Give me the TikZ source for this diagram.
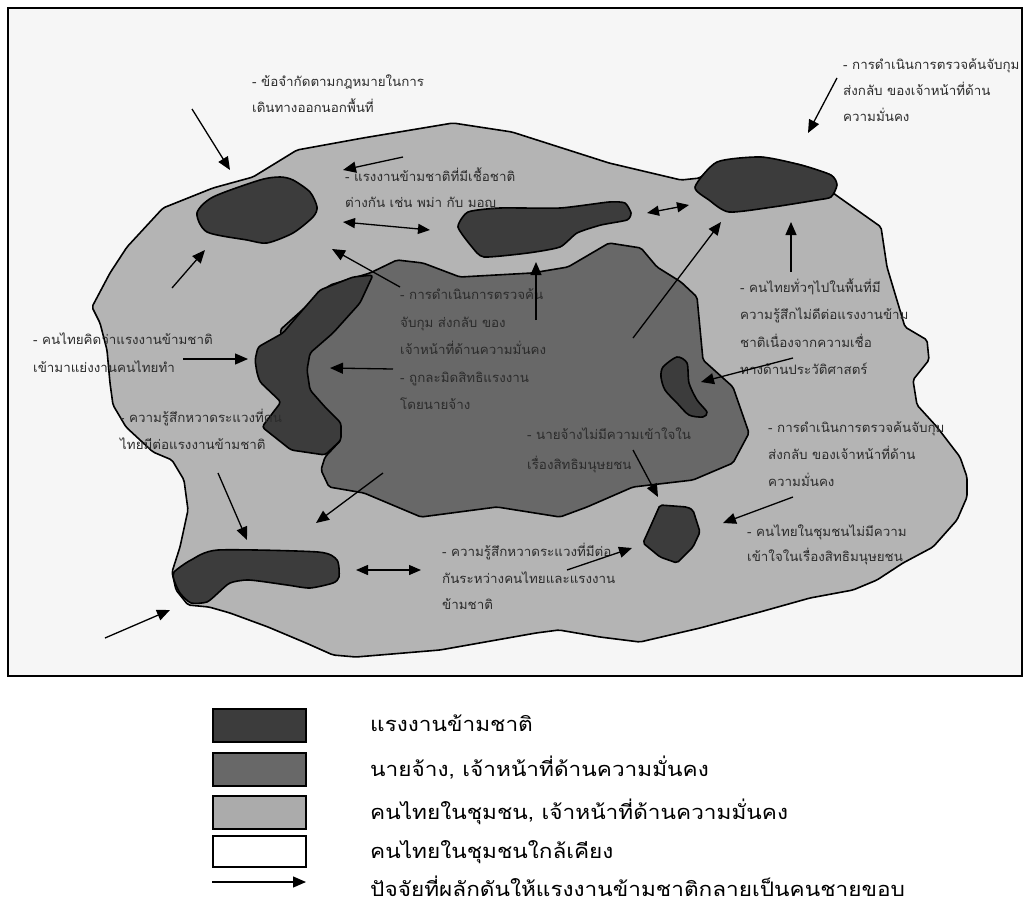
\documentclass[tikz,border=0pt]{standalone}
\usepackage{fontspec}
\newfontfamily\thai[Script=Thai, FakeStretch=1.03]{Loma}
\newfontfamily\thaileg[Script=Thai, FakeStretch=1.13]{Loma}
\usetikzlibrary{arrows.meta}
\definecolor{bgc}{HTML}{F6F6F6}
\definecolor{lightc}{HTML}{B4B4B4}
\definecolor{midc}{HTML}{686868}
\definecolor{darkc}{HTML}{3C3C3C}
\definecolor{txtc}{HTML}{2B2B2B}
\begin{document}
\begin{tikzpicture}[x=1pt,y=-1pt,
 outline/.style={draw=black, line width=1.6pt, line join=round},
 arr/.style={line width=1.3pt, -{Triangle[length=13pt,width=11pt]}},
 darr/.style={line width=1.3pt, {Triangle[length=12pt,width=10pt]}-{Triangle[length=12pt,width=10pt]}},
 lbl/.style={font=\thai\fontsize{13}{15}\selectfont, text=txtc, anchor=base west, inner sep=0pt},
 legtxt/.style={font=\thaileg\fontsize{20}{22}\selectfont, text=black, anchor=base west, inner sep=0pt},
 legbox/.style={draw=black, line width=2pt, minimum width=93pt, minimum height=33pt, inner sep=0pt}]

\useasboundingbox (0,0) rectangle (1029,908);
\fill[white] (0,0) rectangle (1029,908);
\fill[bgc] (8,8) rectangle (1022,676);
\draw[line width=1.5pt] (8,8) rectangle (1022,676);

% outer light region
\filldraw[outline, fill=lightc, rounded corners=2pt]
 (163,208) -- (213,188) -- (253,177) -- (297,150) -- (363,138) -- (453,123) -- (512,132)
 -- (609,163) -- (681,180) -- (700,178) -- (717,162) -- (761,157) -- (801,165) -- (831,175)
 -- (837,185) -- (833,193) -- (881,227) -- (887,267) -- (905,327) -- (927,340) -- (929,360)
 -- (913,380) -- (917,405) -- (937,427) -- (960,457) -- (967,477) -- (967,497) -- (957,520)
 -- (933,547) -- (903,563) -- (877,580) -- (853,590) -- (810,598) -- (760,612) -- (700,628)
 -- (640,642) -- (600,637) -- (559,630) -- (536,633) -- (440,650) -- (356,657) -- (333,655)
 -- (306,643) -- (268,627) -- (230,613) -- (209,607) -- (188,605) -- (176,590) -- (172,572)
 -- (180,547) -- (188,510) -- (184,480) -- (172,460) -- (153,452) -- (126,427) -- (113,405)
 -- (110,383) -- (107,350) -- (100,323) -- (92,307) -- (110,273) -- (127,247) -- cycle;

% medium region (employers, security officers)
\filldraw[outline, fill=midc, rounded corners=2pt]
 (370,273) -- (397,260) -- (423,263) -- (460,277) -- (532,273) -- (568,267) -- (609,243)
 -- (641,248) -- (657,267) -- (681,282) -- (697,297) -- (703,360) -- (733,387) -- (749,433)
 -- (733,463) -- (693,480) -- (633,487) -- (587,507) -- (560,517) -- (497,507) -- (421,517)
 -- (364,493) -- (329,487) -- (321,470) -- (325,457) -- (341,440) -- (300,400) -- (280,330)
 -- (330,285) -- cycle;

% dark regions (migrant workers)
\filldraw[outline, fill=darkc, rounded corners=3pt]
 (373,275) -- (353,277) -- (320,290) -- (300,313) -- (283,333) -- (258,347) -- (255,360)
 -- (257,373) -- (260,382) -- (281,402) -- (262,427) -- (291,450) -- (325,455) -- (341,440)
 -- (341,423) -- (325,407) -- (310,390) -- (307,370) -- (310,353) -- (333,333) -- (360,303) -- cycle;

\filldraw[outline, fill=darkc] plot[smooth cycle, tension=0.45] coordinates {
 (197,213) (213,197) (260,180) (280,177) (293,180) (310,192) (317,207) (313,217)
 (293,233) (267,243) (247,240) (207,232)};

\filldraw[outline, fill=darkc] plot[smooth cycle, tension=0.35] coordinates {
 (458,227) (468,212) (500,208) (560,208) (609,202) (625,203) (631,213) (627,220)
 (601,225) (577,233) (560,247) (528,253) (484,257) (472,247)};

\filldraw[outline, fill=darkc] plot[smooth cycle, tension=0.4] coordinates {
 (695,187) (717,162) (761,157) (801,165) (831,175) (837,185) (831,197) (817,200)
 (773,207) (729,212) (709,200)};

\filldraw[outline, fill=darkc] plot[smooth cycle, tension=0.45] coordinates {
 (663,367) (677,357) (687,363) (689,383) (697,400) (707,412) (703,417) (689,415)
 (677,403) (665,390) (661,377)};

\filldraw[outline, fill=darkc, rounded corners=2pt]
 (660,505) -- (687,507) -- (693,510) -- (700,532) -- (693,547) -- (677,563) -- (660,557)
 -- (643,543) -- (652,523) -- cycle;

\filldraw[outline, fill=darkc] plot[smooth cycle, tension=0.4] coordinates {
 (174,572) (191,560) (218,550) (318,552) (337,560) (339,577) (333,583) (310,588)
 (287,585) (249,580) (230,583) (218,593) (207,602) (191,603) (180,593) (174,580)};

% labels
\foreach \t [count=\i] in {- ข้อจำกัดตามกฎหมายในการ, เดินทางออกนอกพื้นที่}
 \node[lbl] (tA\i) at (252,{86.5+26*(\i-1)}) {\t};
\foreach \t [count=\i] in {- การดำเนินการตรวจค้นจับกุม, ส่งกลับ ของเจ้าหน้าที่ด้าน, ความมั่นคง}
 \node[lbl] (tB\i) at (843,{69.5+26*(\i-1)}) {\t};
\foreach \t [count=\i] in {- แรงงานข้ามชาติที่มีเชื้อชาติ, ต่างกัน เช่น พม่า กับ มอญ}
 \node[lbl] (tC\i) at (345,{181.5+26*(\i-1)}) {\t};
\foreach \t [count=\i] in {- การดำเนินการตรวจค้น, จับกุม ส่งกลับ ของ, เจ้าหน้าที่ด้านความมั่นคง, - ถูกละมิดสิทธิแรงงาน, โดยนายจ้าง}
 \node[lbl] (tD\i) at (400,{299.5+27.5*(\i-1)}) {\t};
\foreach \t [count=\i] in {- คนไทยคิดว่าแรงงานข้ามชาติ, เข้ามาแย่งงานคนไทยทำ}
 \node[lbl] (tE\i) at (33,{344.5+28*(\i-1)}) {\t};
\foreach \t [count=\i] in {- ความรู้สึกหวาดระแวงที่คน, ไทยมีต่อแรงงานข้ามชาติ}
 \node[lbl] (tF\i) at (120,{422+27*(\i-1)}) {\t};
\foreach \t [count=\i] in {- คนไทยทั่วๆไปในพื้นที่มี, ความรู้สึกไม่ดีต่อแรงงานข้าม, ชาติเนื่องจากความเชื่อ, ทางด้านประวัติศาสตร์}
 \node[lbl] (tG\i) at (740,{292.5+27.3*(\i-1)}) {\t};
\foreach \t [count=\i] in {- นายจ้างไม่มีความเข้าใจใน, เรื่องสิทธิมนุษยชน}
 \node[lbl] (tH\i) at (527,{439.5+30*(\i-1)}) {\t};
\foreach \t [count=\i] in {- การดำเนินการตรวจค้นจับกุม, ส่งกลับ ของเจ้าหน้าที่ด้าน, ความมั่นคง}
 \node[lbl] (tI\i) at (768,{432.5+27*(\i-1)}) {\t};
\foreach \t [count=\i] in {- คนไทยในชุมชนไม่มีความ, เข้าใจในเรื่องสิทธิมนุษยชน}
 \node[lbl] (tJ\i) at (747,{536.5+25*(\i-1)}) {\t};
\foreach \t [count=\i] in {- ความรู้สึกหวาดระแวงที่มีต่อ, กันระหว่างคนไทยและแรงงาน, ข้ามชาติ}
 \node[lbl] (tK\i) at (442,{556.5+26.5*(\i-1)}) {\t};

% arrow end points
\coordinate (p1s) at (192,109); \coordinate (p1e) at (230,170);
\coordinate (p2s) at (403,157); \coordinate (p2e) at (343,170);
\coordinate (p3s) at (343,222); \coordinate (p3e) at (430,230);
\coordinate (p4s) at (172,288); \coordinate (p4e) at (205,250);
\coordinate (p5s) at (400,287); \coordinate (p5e) at (332,249);
\coordinate (p6s) at (536,320); \coordinate (p6e) at (536,262);
\coordinate (p7s) at (647,213); \coordinate (p7e) at (689,205);
\coordinate (p8s) at (633,338); \coordinate (p8e) at (721,222);
\coordinate (p9s) at (791,272); \coordinate (p9e) at (791,222);
\coordinate (p10s) at (793,358); \coordinate (p10e) at (701,382);
\coordinate (p11s) at (837,78); \coordinate (p11e) at (808,133);
\coordinate (p12s) at (183,359); \coordinate (p12e) at (248,359);
\coordinate (p13s) at (393,369); \coordinate (p13e) at (330,368);
\coordinate (p14s) at (218,473); \coordinate (p14e) at (247,540);
\coordinate (p15s) at (383,473); \coordinate (p15e) at (316,523);
\coordinate (p16s) at (356,570); \coordinate (p16e) at (421,570);
\coordinate (p17s) at (105,638); \coordinate (p17e) at (170,610);
\coordinate (p18s) at (567,570); \coordinate (p18e) at (632,548);
\coordinate (p19s) at (633,450); \coordinate (p19e) at (658,497);
\coordinate (p20s) at (793,497); \coordinate (p20e) at (723,523);

\foreach \k in {1,2,4,5,6,8,9,10,11,12,13,14,15,17,18,19,20}
 \draw[arr] (p\k s) -- (p\k e);
\draw[darr] (p3s) -- (p3e);
\draw[darr] (p7s) -- (p7e);
\draw[darr] (p16s) -- (p16e);

% legend
\node[legbox, fill=darkc] (b1) at (259,725) {};
\node[legbox, fill=midc] (b2) at (259,769) {};
\node[legbox, fill=lightc!95!black] (b3) at (259,812) {};
\node[legbox, fill=white, minimum height=31pt] (b4) at (259,851) {};
\coordinate (la) at (212,882); \coordinate (lb) at (306,882);
\draw[arr] (la) -- (lb);
\node[legtxt] (l1) at (370,731) {แรงงานข้ามชาติ};
\node[legtxt] (l2) at (370,776) {นายจ้าง, เจ้าหน้าที่ด้านความมั่นคง};
\node[legtxt] (l3) at (370,819) {คนไทยในชุมชน, เจ้าหน้าที่ด้านความมั่นคง};
\node[legtxt] (l4) at (370,858) {คนไทยในชุมชนใกล้เคียง};
\node[legtxt] (l5) at (370,896) {ปัจจัยที่ผลักดันให้แรงงานข้ามชาติกลายเป็นคนชายขอบ};
\end{tikzpicture}
\end{document}
